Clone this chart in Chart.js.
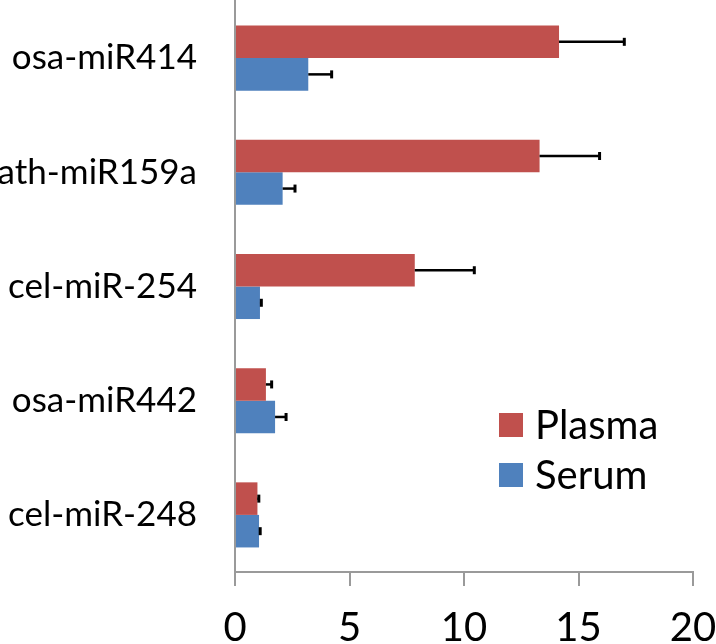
<!DOCTYPE html>
<html>
<head>
<meta charset="utf-8">
<script src="https://cdn.jsdelivr.net/npm/chart.js@4.4.0/dist/chart.umd.min.js"></script>
<style>
  html, body { margin: 0; padding: 0; background: #ffffff; }
  #wrap { width: 716px; height: 644px; position: relative; }
</style>
</head>
<body>
<div id="wrap"><canvas id="c" width="716" height="644"></canvas></div>
<script>
// ---- data ----
const categories = ["osa-miR414", "ath-miR159a", "cel-miR-254", "osa-miR442", "cel-miR-248"];
const plasmaValues = [14.15, 13.3, 7.85, 1.35, 0.98];
const plasmaErrors = [2.85, 2.62, 2.6, 0.25, 0.06];
const serumValues = [3.2, 2.08, 1.09, 1.75, 1.05];
const serumErrors = [1.02, 0.54, 0.06, 0.48, 0.05];
const xTickValues = [0, 5, 10, 15, 20];

const FONT = "Lato, 'Open Sans', sans-serif";
const AXIS_GRAY = "#9a9a9a";

function zeroPad(scale) {
  scale.paddingTop = 0; scale.paddingBottom = 0;
  scale.paddingLeft = 0; scale.paddingRight = 0;
}

const errorBars = {
  id: "errorBars",
  afterDatasetsDraw(chart) {
    const ctx = chart.ctx;
    const xs = chart.scales.x;
    ctx.save();
    ctx.strokeStyle = "#000000";
    chart.data.datasets.forEach((ds, di) => {
      const meta = chart.getDatasetMeta(di);
      meta.data.forEach((bar, i) => {
        const v = ds.data[i] + ds.errors[i];
        const xEnd = xs.getPixelForValue(v);
        ctx.lineWidth = 2.5;
        ctx.beginPath();
        ctx.moveTo(bar.x, bar.y);
        ctx.lineTo(xEnd, bar.y);
        ctx.stroke();
        ctx.lineWidth = 3;
        ctx.beginPath();
        ctx.moveTo(xEnd, bar.y - 4);
        ctx.lineTo(xEnd, bar.y + 4);
        ctx.stroke();
      });
    });
    ctx.restore();
  }
};

const customLegend = {
  id: "customLegend",
  afterDraw(chart) {
    const ctx = chart.ctx;
    ctx.save();
    ctx.font = "40px " + FONT;
    ctx.textBaseline = "middle";
    ctx.textAlign = "left";
    chart.data.datasets.forEach((ds, i) => {
      const top = 413 + i * 50;
      ctx.fillStyle = ds.backgroundColor;
      ctx.fillRect(499, top, 24, 24);
      ctx.fillStyle = "#000000";
      ctx.fillText(ds.label, 535, top + 13);
    });
    ctx.restore();
  }
};

new Chart(document.getElementById("c"), {
  type: "bar",
  data: {
    labels: categories,
    datasets: [
      { label: "Plasma", data: plasmaValues, errors: plasmaErrors, backgroundColor: "#C0504D" },
      { label: "Serum", data: serumValues, errors: serumErrors, backgroundColor: "#4F81BD" }
    ]
  },
  options: {
    indexAxis: "y",
    responsive: false,
    animation: false,
    devicePixelRatio: 1,
    layout: { padding: { top: 1, right: 23, left: 0, bottom: 0 } },
    categoryPercentage: 0.57,
    barPercentage: 1.0,
    plugins: { legend: { display: false }, tooltip: { enabled: false } },
    scales: {
      x: {
        min: 0, max: 20,
        afterBuildTicks(scale) { scale.ticks = xTickValues.map(v => ({ value: v })); },
        afterFit(scale) { scale.height = 72; zeroPad(scale); },
        grid: { drawOnChartArea: false, drawTicks: true, tickLength: 14, color: AXIS_GRAY, lineWidth: 2 },
        border: { display: true, color: AXIS_GRAY, width: 2 },
        ticks: { color: "#000000", font: { family: FONT, size: 40 }, padding: 18, maxRotation: 0 }
      },
      y: {
        afterFit(scale) { scale.width = 235; zeroPad(scale); },
        grid: { display: false, drawTicks: false },
        border: { display: true, color: AXIS_GRAY, width: 2 },
        ticks: { color: "#000000", font: { family: FONT, size: 35 }, padding: 38 }
      }
    }
  },
  plugins: [errorBars, customLegend]
});
</script>
</body>
</html>
